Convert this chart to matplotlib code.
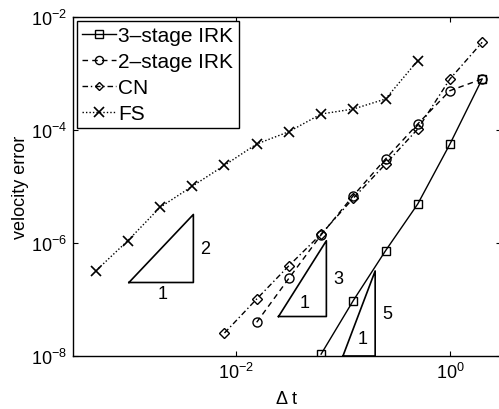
import numpy as np
import matplotlib
matplotlib.use('Agg')
import matplotlib.pyplot as plt
from matplotlib.ticker import NullLocator

plt.rcParams['font.family'] = ['Liberation Sans', 'DejaVu Sans']
plt.rcParams['mathtext.fontset'] = 'custom'
plt.rcParams['mathtext.rm'] = 'Liberation Sans'
plt.rcParams['mathtext.it'] = 'Liberation Sans:italic'

###############################################################################
# Data
###############################################################################
dt_irk3 = [2**-4, 2**-3, 2**-2, 2**-1, 2**0, 2**1]
err_irk3 = [1.08e-8, 9.6e-8, 7.3e-7, 4.9e-6, 5.65e-5, 8.0e-4]

dt_irk2 = [2**-6, 2**-5, 2**-4, 2**-3, 2**-2, 2**-1, 2**0, 2**1]
err_irk2 = [3.95e-8, 2.37e-7, 1.39e-6, 6.9e-6, 3.07e-5, 1.28e-4, 4.97e-4, 8.0e-4]

dt_cn = [2**-7, 2**-6, 2**-5, 2**-4, 2**-3, 2**-2, 2**-1, 2**0, 2**1]
err_cn = [2.55e-8, 1.02e-7, 3.96e-7, 1.44e-6, 6.2e-6, 2.5e-5, 1.04e-4, 8.0e-4, 3.57e-3]

dt_fs = [2**-11, 2**-10, 2**-9, 2**-8, 2**-7, 2**-6, 2**-5, 2**-4, 2**-3, 2**-2, 2**-1]
err_fs = [3.19e-7, 1.10e-6, 4.28e-6, 1.01e-5, 2.37e-5, 5.65e-5, 9.33e-5,
          1.92e-4, 2.35e-4, 3.54e-4, 1.69e-3]

LABELS = ['3\u2013stage IRK', '2\u2013stage IRK', 'CN', 'FS']

# slope triangles: (x left, x right, y base, slope)
tri_x0 = [1e-3, 0.025, 0.1]
tri_x1 = [4e-3, 0.07, 0.2]
tri_y0 = [2e-7, 5e-8, 1e-8]
tri_slope = [2, 3, 5]

###############################################################################
# Plot
###############################################################################
fig = plt.figure(figsize=(4.99, 4.10), dpi=100)
ax = fig.add_axes([73/499, 1 - 357/410, 428/499, 339/410])

lw = 1.0
ax.loglog(dt_irk3, err_irk3, '-', color='k', lw=lw, marker='s', ms=6,
          mfc='none', mec='k', mew=1.0, label=LABELS[0])
ax.loglog(dt_irk2, err_irk2, color='k', lw=lw, ls=(0, (4, 3)), marker='o', ms=6.5,
          mfc='none', mec='k', mew=1.0, label=LABELS[1])
ax.loglog(dt_cn, err_cn, color='k', lw=lw, ls=(0, (4, 2, 1, 2)), marker='D', ms=5,
          mfc='none', mec='k', mew=1.0, label=LABELS[2])
ax.loglog(dt_fs, err_fs, color='k', lw=lw, ls=(0, (1, 1.5)), marker='x', ms=7.5,
          mec='k', mew=1.2, label=LABELS[3])

# slope triangles
for x0, x1, y0, s in zip(tri_x0, tri_x1, tri_y0, tri_slope):
    y1 = y0 * (x1 / x0) ** s
    ax.plot([x0, x1, x1, x0], [y0, y0, y1, y0], '-', color='k', lw=1.2)
    ax.annotate(str(s), xy=(x1, np.sqrt(y0 * y1)), xytext=(5, 0),
                textcoords='offset points', ha='left', va='center', fontsize=13)

# "1" labels for the triangle bases
ax.annotate('1', xy=(np.sqrt(tri_x0[0] * tri_x1[0]), tri_y0[0]), xytext=(1, -2),
            textcoords='offset points', ha='center', va='top', fontsize=13)
ax.annotate('1', xy=(tri_x1[1], tri_y0[1]), xytext=(-15.5, 10),
            textcoords='offset points', ha='center', va='center', fontsize=13)
ax.annotate('1', xy=(tri_x1[2], tri_y0[2]), xytext=(-9, 12.5),
            textcoords='offset points', ha='center', va='center', fontsize=13)

ax.set_xlim(3e-4, 3)
ax.set_ylim(1e-8, 1e-2)
ax.set_xticks([1e-2, 1e0])
ax.set_yticks([1e-8, 1e-6, 1e-4, 1e-2])
ax.xaxis.set_minor_locator(NullLocator())
ax.yaxis.set_minor_locator(NullLocator())
ax.tick_params(direction='in', length=3.5, width=0.8, top=True, right=True,
               labelsize=13, pad=4)
for sp in ax.spines.values():
    sp.set_linewidth(1.0)

ax.set_xlabel('\u0394 t', fontsize=13, labelpad=6)
ax.set_ylabel('velocity error', fontsize=13, labelpad=2)

leg = ax.legend(loc='upper left', fontsize=15, fancybox=False, edgecolor='k',
                framealpha=1, handlelength=1.6, handletextpad=0.12,
                labelspacing=0.33, borderpad=0.25, borderaxespad=0.2,
                markerscale=0.9)
leg.get_frame().set_linewidth(1.0)

fig.savefig('out.png', dpi=100)
